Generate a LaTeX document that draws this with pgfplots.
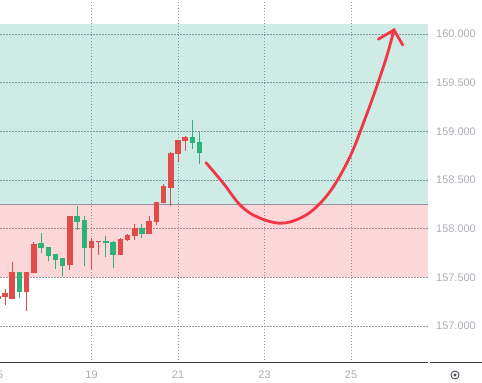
\documentclass[border=0pt]{standalone}
\usepackage{pgfplots}
\pgfplotsset{compat=1.18}
\usepackage{pgfplotstable}
\usepackage{fontspec}
\setmainfont{Liberation Sans}
\definecolor{upg}{HTML}{2DB37A}
\definecolor{dnr}{HTML}{E34B4B}
\definecolor{zoneg}{HTML}{089981}
\definecolor{zoner}{HTML}{F23645}
\definecolor{gridc}{HTML}{979AA2}
\definecolor{lbl}{HTML}{ABAEB5}
\definecolor{arrowc}{HTML}{F23645}
\definecolor{axc}{HTML}{363A45}
\definecolor{midg}{HTML}{787B86}

% red candles: x, body bottom, body top, low, high
\pgfplotstableread{
x bot top lo hi
16.8333 157.28 157.30 157.27 157.31
17.0 157.30 157.335 157.22 157.38
17.1667 157.274 157.548 157.274 157.66
17.5 157.353 157.548 157.157 157.548
17.6667 157.54 157.83 157.54 157.86
18.5 157.63 158.12 157.58 158.13
19.0 157.80 157.87 157.59 157.90
19.1667 157.86 157.87 157.73 157.87
19.6667 157.73 157.89 157.73 157.90
19.8333 157.88 157.93 157.87 157.95
20.0 157.92 158.00 157.88 158.05
20.3333 157.95 158.07 157.95 158.13
20.5 158.07 158.27 158.04 158.27
20.6667 158.26 158.43 158.26 158.46
20.8333 158.42 158.77 158.23 158.79
21.0 158.765 158.90 158.69 158.90
21.1667 158.90 158.93 158.80 158.95
}\redc

% green candles
\pgfplotstableread{
x bot top lo hi
17.3333 157.353 157.548 157.29 157.548
17.8333 157.80 157.84 157.75 157.96
18.0 157.72 157.80 157.67 157.80
18.1667 157.68 157.73 157.59 157.73
18.3333 157.62 157.69 157.51 157.69
18.6667 158.07 158.12 157.99 158.23
18.8333 157.80 158.08 157.62 158.13
19.3333 157.85 157.87 157.71 157.92
19.5 157.73 157.86 157.60 157.87
20.1667 157.95 158.00 157.90 158.05
21.3333 158.88 158.93 158.82 159.12
21.5 158.78 158.88 158.66 158.99
}\greenc

\pgfplotsset{candle/.style={only marks, mark=*, mark size=0pt,
  mark options={draw=none, fill=none},
  error bars/.cd, y dir=plus, y explicit, error mark=none}}

\begin{document}
\begin{tikzpicture}
\path[use as bounding box] (0,0) rectangle (482bp,383bp);
\begin{axis}[
  at={(0,20bp)}, anchor=south west,
  width=428bp, height=363bp, scale only axis,
  xmin=16.884, xmax=26.78, ymin=156.62, ymax=160.35,
  xtick={19,21,23,25}, xticklabels={19,21,23,25},
  ytick={157,157.5,158,158.5,159,159.5,160},
  yticklabels={157.000,157.500,158.000,158.500,159.000,159.500,160.000},
  yticklabel pos=right,
  grid=major,
  major grid style={gridc, line width=0.8bp, dash pattern=on 1.5bp off 1.5bp},
  axis line style={draw=none},
  major tick length=0pt,
  tick style={draw=none},
  ticklabel style={font=\fontsize{11}{13}\selectfont, text=lbl},
  xticklabel style={anchor=center, yshift=-11.5bp},
  yticklabel style={anchor=west, xshift=8bp, inner sep=0pt},
]
% zones
\addplot[draw=none, fill=zoneg, fill opacity=0.2] coordinates {(16,158.25) (28,158.25) (28,160.1) (16,160.1)} -- cycle;
\addplot[draw=none, fill=zoner, fill opacity=0.2] coordinates {(16,157.5) (28,157.5) (28,158.25) (16,158.25)} -- cycle;
\addplot[draw=midg!80, line width=1.3bp] coordinates {(16,158.25) (28,158.25)};

% wicks
\addplot[candle, error bar style={dnr, line width=1bp}]
  table[x=x, y=lo, y error plus expr=\thisrow{hi}-\thisrow{lo}] {\redc};
\addplot[candle, error bar style={upg, line width=1bp}]
  table[x=x, y=lo, y error plus expr=\thisrow{hi}-\thisrow{lo}] {\greenc};
% bodies
\addplot[candle, error bar style={dnr, line width=5.5bp, line cap=butt}]
  table[x=x, y=bot, y error plus expr=\thisrow{top}-\thisrow{bot}+0.008] {\redc};
\addplot[candle, error bar style={upg, line width=5.5bp, line cap=butt}]
  table[x=x, y=bot, y error plus expr=\thisrow{top}-\thisrow{bot}+0.008] {\greenc};

% arrow
\addplot[arrowc, line width=2.8bp, line cap=round, smooth, tension=0.6] coordinates {
(21.647,158.678) (22.048,158.467) (22.434,158.244) (22.82,158.123) (23.358,158.056)
(23.82,158.107) (24.207,158.226) (24.59,158.43) (24.977,158.74) (25.285,159.083)
(25.594,159.46) (25.825,159.77) (25.994,160.042)};
\addplot[arrowc, line width=2.8bp, line cap=round, line join=miter] coordinates {
(25.631,159.947) (25.994,160.042) (26.195,159.888)};

% price labels
\node[fill=zoneg, text=white, anchor=west, minimum width=53bp, minimum height=12.5bp, inner sep=0pt, font=\fontsize{11}{13}\selectfont] at (axis cs:26.78,160.1) {\hspace{2bp}160.100};
\node[fill=midg, text=white, anchor=west, minimum width=53bp, minimum height=12.5bp, inner sep=0pt, font=\fontsize{11}{13}\selectfont] at (axis cs:26.78,158.25) {\hspace{2bp}158.250};
\node[fill=zoner, text=white, anchor=west, minimum width=53bp, minimum height=12.5bp, inner sep=0pt, font=\fontsize{11}{13}\selectfont] at (axis cs:26.78,157.5) {\hspace{2bp}157.500};
\end{axis}
% bottom line and extras
\draw[axc, line width=1bp] (0,20bp) -- (428bp,20bp);
\draw[axc, line width=1bp] (430bp,20bp) -- (482bp,20bp);
\node[anchor=east, inner sep=0pt, text=lbl, font=\fontsize{11}{13}\selectfont] at (3.5bp,8.5bp) {5};
\draw[axc, line width=0.8bp] (455bp,8bp) circle (4bp);
\draw[axc, line width=0.7bp] (455bp,8bp) circle (1.2bp);
\end{tikzpicture}
\end{document}
